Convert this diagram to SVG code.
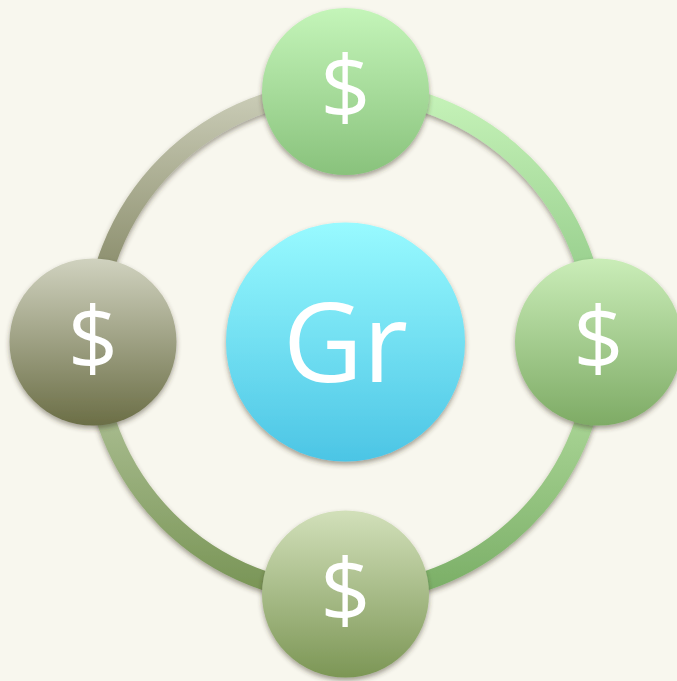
<svg xmlns="http://www.w3.org/2000/svg" width="677" height="681" viewBox="0 0 677 681">
<style>
.lbl{font-family:"Open Sans","Noto Sans","Liberation Sans",sans-serif;fill:#ffffff;text-anchor:middle}
.d{font-size:88px}
.g{font-size:110px}
.arc{fill:none;stroke-width:19}
</style>
<defs>
<filter id="sh" x="-20%" y="-20%" width="140%" height="140%">
<feDropShadow dx="0" dy="3" stdDeviation="2.5" flood-color="#3a3020" flood-opacity="0.45"/>
</filter>
<linearGradient id="aTL" gradientUnits="userSpaceOnUse" x1="0" y1="90" x2="0" y2="342"><stop offset="0" stop-color="#cbcdb8"/><stop offset="1" stop-color="#737650"/></linearGradient>
<linearGradient id="aTR" gradientUnits="userSpaceOnUse" x1="0" y1="90" x2="0" y2="342"><stop offset="0" stop-color="#c6f3b9"/><stop offset="1" stop-color="#88c27e"/></linearGradient>
<linearGradient id="aBR" gradientUnits="userSpaceOnUse" x1="0" y1="342" x2="0" y2="594"><stop offset="0" stop-color="#bce4a8"/><stop offset="1" stop-color="#7aae66"/></linearGradient>
<linearGradient id="aBL" gradientUnits="userSpaceOnUse" x1="0" y1="342" x2="0" y2="594"><stop offset="0" stop-color="#bccca6"/><stop offset="1" stop-color="#789455"/></linearGradient>
<linearGradient id="nT" x1="0" y1="0" x2="0" y2="1"><stop offset="0" stop-color="#c4f5b9"/><stop offset="1" stop-color="#89c27c"/></linearGradient>
<linearGradient id="nL" x1="0" y1="0" x2="0" y2="1"><stop offset="0" stop-color="#d0d2bf"/><stop offset="1" stop-color="#6b6e46"/></linearGradient>
<linearGradient id="nR" x1="0" y1="0" x2="0" y2="1"><stop offset="0" stop-color="#caedb8"/><stop offset="1" stop-color="#7eab65"/></linearGradient>
<linearGradient id="nB" x1="0" y1="0" x2="0" y2="1"><stop offset="0" stop-color="#d2e0ba"/><stop offset="1" stop-color="#7c9655"/></linearGradient>
<linearGradient id="nC" x1="0" y1="0" x2="0" y2="1"><stop offset="0" stop-color="#98faff"/><stop offset="1" stop-color="#4cc5e5"/></linearGradient>
</defs>
<rect width="677" height="681" fill="#f8f7ee"/>
<g id="connectors" filter="url(#sh)">
<path class="arc" stroke="url(#aTL)" d="M93.5,342 A252,252 0 0 1 345.5,90"/>
<path class="arc" stroke="url(#aTR)" d="M345.5,90 A252,252 0 0 1 597.5,342"/>
<path class="arc" stroke="url(#aBR)" d="M597.5,342 A252,252 0 0 1 345.5,594"/>
<path class="arc" stroke="url(#aBL)" d="M345.5,594 A252,252 0 0 1 93.5,342"/>
</g>
<g id="center">
<circle cx="345.5" cy="342" r="119.5" fill="url(#nC)" filter="url(#sh)"/>
<text class="lbl g" x="345.5" y="382">Gr</text>
</g>
<g id="top">
<circle cx="345.5" cy="91.5" r="83.5" fill="url(#nT)" filter="url(#sh)"/>
<text class="lbl d" x="345.5" y="119">$</text>
</g>
<g id="left">
<circle cx="93" cy="342" r="83.5" fill="url(#nL)" filter="url(#sh)"/>
<text class="lbl d" x="93" y="369.5">$</text>
</g>
<g id="right">
<circle cx="598.5" cy="342" r="83.5" fill="url(#nR)" filter="url(#sh)"/>
<text class="lbl d" x="598.5" y="369.5">$</text>
</g>
<g id="bottom">
<circle cx="345.5" cy="594" r="83.5" fill="url(#nB)" filter="url(#sh)"/>
<text class="lbl d" x="345.5" y="621.5">$</text>
</g>
</svg>
